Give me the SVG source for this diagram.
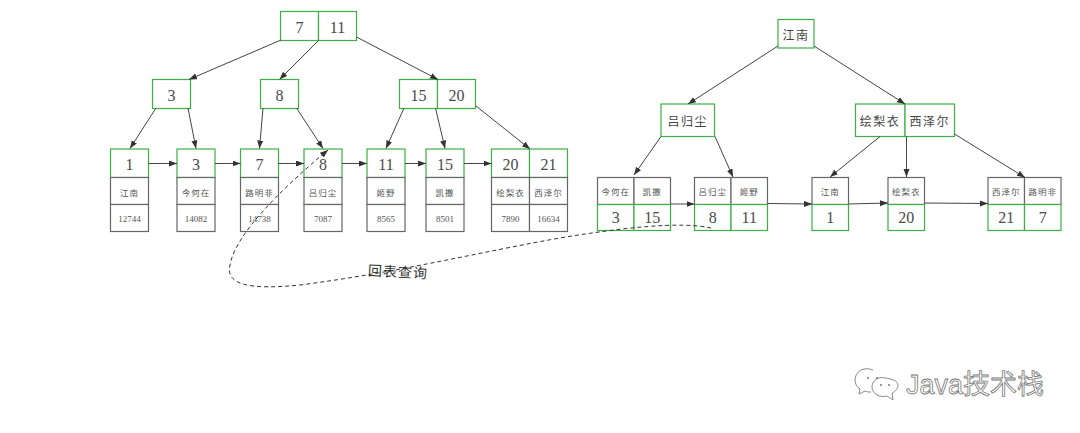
<svg xmlns="http://www.w3.org/2000/svg" width="1080" height="433" viewBox="0 0 1080 433">
<style>
text{text-anchor:middle;dominant-baseline:central;fill:#444}
.n{font:16px "Liberation Serif","Noto Serif",serif;fill:#4a4a4a}
.s{font:9px "Liberation Serif",serif;fill:#555}
.c{font:8.500px "Noto Sans CJK SC","Liberation Serif",serif;fill:#555;letter-spacing:1px}
.m{font:12px "Noto Sans CJK SC","Liberation Serif",serif;fill:#444;letter-spacing:1.500px}
rect{fill:#fff;stroke-width:1.2}
.g{stroke:#3cb043}
.k{stroke:#666}
#connectors path{fill:none;stroke:#444;stroke-width:1;marker-end:url(#a)}
#connectors path.d{stroke-dasharray:4 3;stroke:#333}
</style>
<defs>
<marker id="a" markerUnits="userSpaceOnUse" markerWidth="9" markerHeight="7" refX="8" refY="3" orient="auto"><path d="M0 0L8 3L0 6Z" fill="#333"/></marker>
</defs>
<rect x="0" y="0" width="1080" height="433" style="fill:#fff;stroke:none"/>

<g id="n-root"><rect class="g" x="280.5" y="11.5" width="38" height="29"/><rect class="g" x="318.5" y="11.5" width="38" height="29"/><text class="n" x="299.5" y="27">7</text><text class="n" x="337.5" y="27">11</text></g>
<g id="n-3"><rect class="g" x="152.5" y="79.5" width="38" height="29"/><text class="n" x="171.5" y="95">3</text></g>
<g id="n-8"><rect class="g" x="260.5" y="79.5" width="38" height="29"/><text class="n" x="279.5" y="95">8</text></g>
<g id="n-15-20"><rect class="g" x="399.5" y="79.5" width="38" height="29"/><rect class="g" x="437.5" y="79.5" width="38" height="29"/><text class="n" x="418.5" y="95">15</text><text class="n" x="456.5" y="95">20</text></g>

<g id="l-1"><rect class="g" x="110.5" y="149" width="38" height="28.5"/><rect class="k" x="110.5" y="177.5" width="38" height="27"/><rect class="k" x="110.5" y="204.5" width="38" height="27"/><text class="n" x="129.5" y="164">1</text><text class="c" x="129.5" y="191.5">江南</text><text class="s" x="129.5" y="218.5">12744</text></g>
<g id="l-3"><rect class="g" x="177" y="149" width="38" height="28.5"/><rect class="k" x="177" y="177.5" width="38" height="27"/><rect class="k" x="177" y="204.5" width="38" height="27"/><text class="n" x="196" y="164">3</text><text class="c" x="196" y="191.5">今何在</text><text class="s" x="196" y="218.5">14082</text></g>
<g id="l-7"><rect class="g" x="240.5" y="149" width="38" height="28.5"/><rect class="k" x="240.5" y="177.5" width="38" height="27"/><rect class="k" x="240.5" y="204.5" width="38" height="27"/><text class="n" x="259.5" y="164">7</text><text class="c" x="259.5" y="191.5">路明非</text><text class="s" x="259.5" y="218.5">14738</text></g>
<g id="l-8"><rect class="g" x="304" y="149" width="38" height="28.5"/><rect class="k" x="304" y="177.5" width="38" height="27"/><rect class="k" x="304" y="204.5" width="38" height="27"/><text class="n" x="323" y="164">8</text><text class="c" x="323" y="191.5">吕归尘</text><text class="s" x="323" y="218.5">7087</text></g>
<g id="l-11"><rect class="g" x="367" y="149" width="38" height="28.5"/><rect class="k" x="367" y="177.5" width="38" height="27"/><rect class="k" x="367" y="204.5" width="38" height="27"/><text class="n" x="386" y="164">11</text><text class="c" x="386" y="191.5">姬野</text><text class="s" x="386" y="218.5">8565</text></g>
<g id="l-15"><rect class="g" x="426" y="149" width="38" height="28.5"/><rect class="k" x="426" y="177.5" width="38" height="27"/><rect class="k" x="426" y="204.5" width="38" height="27"/><text class="n" x="445" y="164">15</text><text class="c" x="445" y="191.5">凯撒</text><text class="s" x="445" y="218.5">8501</text></g>
<g id="l-20-21"><rect class="g" x="491.5" y="149" width="38" height="28.5"/><rect class="g" x="529.5" y="149" width="38" height="28.5"/><rect class="k" x="491.5" y="177.5" width="38" height="27"/><rect class="k" x="529.5" y="177.5" width="38" height="27"/><rect class="k" x="491.5" y="204.5" width="38" height="27"/><rect class="k" x="529.5" y="204.5" width="38" height="27"/><text class="n" x="510.5" y="164">20</text><text class="n" x="548.5" y="164">21</text><text class="c" x="510.5" y="191.5">绘梨衣</text><text class="c" x="548.5" y="191.5">西泽尔</text><text class="s" x="510.5" y="218.5">7890</text><text class="s" x="548.5" y="218.5">16634</text></g>

<g id="r-root"><rect class="g" x="778" y="19.5" width="36" height="28.5"/><text class="m" x="796" y="34">江南</text></g>
<g id="r-lv"><rect class="g" x="661" y="104" width="53.5" height="32.5"/><text class="m" x="687.7" y="120">吕归尘</text></g>
<g id="r-hl"><rect class="g" x="855.5" y="104" width="49.5" height="32.5"/><rect class="g" x="905" y="104" width="49.5" height="32.5"/><text class="m" x="880" y="120">绘梨衣</text><text class="m" x="929.7" y="120">西泽尔</text></g>

<g id="b-1"><rect class="k" x="597.5" y="177.5" width="36.5" height="27"/><rect class="k" x="634" y="177.5" width="36.5" height="27"/><rect class="g" x="597.5" y="204.5" width="36.5" height="26"/><rect class="g" x="634" y="204.5" width="36.5" height="26"/><text class="c" x="615.7" y="191">今何在</text><text class="c" x="652.2" y="191">凯撒</text><text class="n" x="615.7" y="217">3</text><text class="n" x="652.2" y="217">15</text></g>
<g id="b-2"><rect class="k" x="694.5" y="177.5" width="36.5" height="27"/><rect class="k" x="731" y="177.5" width="36.5" height="27"/><rect class="g" x="694.5" y="204.5" width="36.5" height="26"/><rect class="g" x="731" y="204.5" width="36.5" height="26"/><text class="c" x="712.7" y="191">吕归尘</text><text class="c" x="749.2" y="191">姬野</text><text class="n" x="712.7" y="217">8</text><text class="n" x="749.2" y="217">11</text></g>
<g id="b-3"><rect class="k" x="812" y="177.5" width="36.5" height="27"/><rect class="g" x="812" y="204.5" width="36.5" height="26"/><text class="c" x="830.2" y="191">江南</text><text class="n" x="830.2" y="217">1</text></g>
<g id="b-4"><rect class="k" x="888" y="177.5" width="36.5" height="27"/><rect class="g" x="888" y="204.5" width="36.5" height="26"/><text class="c" x="906.2" y="191">绘梨衣</text><text class="n" x="906.2" y="217">20</text></g>
<g id="b-5"><rect class="k" x="988" y="177.5" width="36.5" height="27"/><rect class="k" x="1024.5" y="177.5" width="36.5" height="27"/><rect class="g" x="988" y="204.5" width="36.5" height="26"/><rect class="g" x="1024.5" y="204.5" width="36.5" height="26"/><text class="c" x="1006.2" y="191">西泽尔</text><text class="c" x="1042.7" y="191">路明非</text><text class="n" x="1006.2" y="217">21</text><text class="n" x="1042.7" y="217">7</text></g>

<g id="connectors">
<path d="M281 40L189 79.5"/>
<path d="M318.5 40.5L279.5 79.5"/>
<path d="M356.5 37L438 79.5"/>
<path d="M156 108L130 148.5"/>
<path d="M188 108L196 148.5"/>
<path d="M263 108L259.5 148.5"/>
<path d="M296.5 108L323 148.5"/>
<path d="M404 108L386 148.5"/>
<path d="M435.5 108L445 148.5"/>
<path d="M476 106L530 149"/>
<path d="M148.5 163.5H177"/>
<path d="M215 163.5H240.5"/>
<path d="M278.5 163.5H304"/>
<path d="M342 163.5H367"/>
<path d="M405 163.5H426"/>
<path d="M464 163.5H491.5"/>
<path d="M778 46L688 104"/>
<path d="M814 46L905 104"/>
<path d="M661 136.5L634 175"/>
<path d="M715 136.5L733 177"/>
<path d="M880 136.5L830 177"/>
<path d="M906.5 136.5V177"/>
<path d="M954.5 134L1025 177.5"/>
<path d="M670.5 204H694.5"/>
<path d="M767.5 203.5L812 204"/>
<path d="M848.5 204L888 203"/>
<path d="M924.5 203L988 203.500"/>
<path class="d" d="M711 228C680 221 620 228 560 238C480 252 400 272 300 285C250 290 225 285 230 265C235 235 280 190 328 150"/>
</g>
<text x="398" y="271" transform="rotate(3 398 271)" style="font:14px 'Noto Sans CJK SC',sans-serif;fill:#333;letter-spacing:1px">回表查询</text>

<g id="watermark">
<path d="M873 370C863 366 855 372 855 380C855 384 857 387 860 389L859 394L865 391C867 392 869 392 871 392" fill="#fff" stroke="#888" stroke-width="1"/>
<path d="M885 378C878 376 872 381 872 387C872 394 880 398 887 396L893 400L892 393C896 391 898 388 898 385C898 381 892 379 885 378Z" fill="#fff" stroke="#888" stroke-width="1"/>
<circle cx="868" cy="378" r="1" fill="#777"/><circle cx="877" cy="378" r="1" fill="#777"/><circle cx="881" cy="385" r="1" fill="#777"/><circle cx="889" cy="385" r="1" fill="#777"/>
<text x="975" y="384.500" style="font:27px 'Liberation Sans','Noto Sans CJK SC',sans-serif;fill:#fff;stroke:#777;stroke-width:.8">Java技术栈</text>
</g>
</svg>
